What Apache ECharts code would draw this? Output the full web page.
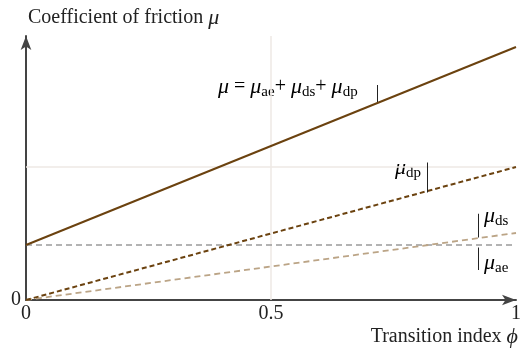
<!DOCTYPE html>
<html>
<head>
<meta charset="utf-8">
<script src="https://cdn.jsdelivr.net/npm/echarts@6/dist/echarts.min.js"></script>
<style>
  html, body { margin: 0; padding: 0; background: #fff; }
  #chart { width: 524px; height: 349px; }
</style>
</head>
<body>
<div id="chart"></div>
<script>
// transition index phi (x) and the friction parts (y)
var phi = [0, 1];
var muAe = [0.22, 0.22];
var muDs = [0, 0.268];
var muDp = [0, 0.532];
var muTotal = [0.22, 1.012];
var xTicks = ['0', '0.5', '1'];

function pairs(ys) {
    return phi.map(function (x, i) { return [x, ys[i]]; });
}

var serif = 'Liberation Serif';
var chart = echarts.init(document.getElementById('chart'));

var rich = {
    i: { fontFamily: serif, fontStyle: 'italic', fontSize: 22, lineHeight: 26, color: '#222' },
    t: { fontFamily: serif, fontSize: 20, lineHeight: 26, color: '#222' },
    s: { fontFamily: serif, fontSize: 15, lineHeight: 14, color: '#222', verticalAlign: 'bottom' }
};

var option = {
    animation: false,
    grid: { left: 26, right: 6, top: 36, bottom: 49 },
    xAxis: {
        type: 'value', min: 0, max: 1, interval: 0.5,
        axisLine: { lineStyle: { color: '#444', width: 2 }, symbol: ['none', 'arrow'], symbolSize: [8, 14] },
        axisTick: { show: false },
        splitLine: { show: false },
        axisLabel: {
            fontFamily: serif, fontSize: 20, color: '#222', margin: 4,
            formatter: function (v) { return xTicks[Math.round(v * 2)]; }
        }
    },
    yAxis: {
        type: 'value', min: 0, max: 1.056, interval: 1,
        axisLine: { show: true, lineStyle: { color: '#444', width: 2 }, symbol: ['none', 'arrow'], symbolSize: [8, 14] },
        axisTick: { show: false },
        splitLine: { show: false },
        axisLabel: {
            fontFamily: serif, fontSize: 20, color: '#222', margin: 5,
            formatter: function (v) { return v === 0 ? '0' : ''; }
        }
    },
    series: [
        {
            type: 'line', data: pairs(muAe), symbol: 'none', z: 2,
            lineStyle: { color: '#9a9a9a', width: 1.6, type: [6, 4] },
            markLine: {
                silent: true, symbol: 'none', label: { show: false }, z: 1,
                lineStyle: { color: '#eee9e4', width: 1.5, type: 'solid' },
                data: [
                    [{ coord: [0.5, 0] }, { coord: [0.5, 1.056] }],
                    [{ coord: [0, 0.532] }, { coord: [1, 0.532] }]
                ]
            }
        },
        {
            type: 'line', data: pairs(muDs), symbol: 'none', z: 3,
            lineStyle: { color: '#bba486', width: 1.8, type: [6, 4] }
        },
        {
            type: 'line', data: pairs(muDp), symbol: 'none', z: 4,
            lineStyle: { color: '#6b420f', width: 2, type: [5, 3] }
        },
        {
            type: 'line', data: pairs(muTotal), symbol: 'none', z: 5,
            lineStyle: { color: '#6b420f', width: 2 },
            markLine: {
                silent: true, symbol: 'none', label: { show: false },
                lineStyle: { color: '#222', width: 1, type: 'solid' },
                data: [
                    [{ coord: [0.717, 0.79] }, { coord: [0.717, 0.86] }],
                    [{ coord: [0.818, 0.43] }, { coord: [0.818, 0.55] }],
                    [{ coord: [0.922, 0.25] }, { coord: [0.922, 0.345] }],
                    [{ coord: [0.922, 0.12] }, { coord: [0.922, 0.21] }]
                ]
            }
        }
    ],
    graphic: [
        { type: 'text', left: 28, top: 7, style: { text: 'Coefficient of friction {i|μ}', rich: rich, fontFamily: serif, fontSize: 20, fill: '#222' } },
        { type: 'text', right: 6, top: 326, style: { text: 'Transition index {i|ϕ}', rich: rich, fontFamily: serif, fontSize: 20, fill: '#222' } },
        { type: 'text', left: 218, top: 76, style: { text: '{i|μ}{t| = }{i|μ}{s|ae}{t|+ }{i|μ}{s|ds}{t|+ }{i|μ}{s|dp}', rich: rich } },
        { type: 'text', left: 395, top: 157, style: { text: '{i|μ}{s|dp}', rich: rich } },
        { type: 'text', left: 484, top: 205, style: { text: '{i|μ}{s|ds}', rich: rich } },
        { type: 'text', left: 484, top: 252, style: { text: '{i|μ}{s|ae}', rich: rich } }
    ]
};
chart.setOption(option);
</script>
</body>
</html>
